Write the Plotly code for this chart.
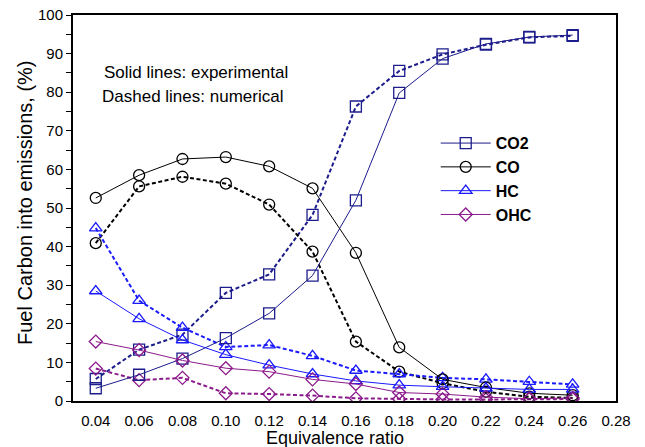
import plotly.graph_objects as go

phi = [0.04, 0.06, 0.08, 0.10, 0.12, 0.14, 0.16, 0.18, 0.20, 0.22, 0.24, 0.26]

co2_exp = [3.3, 6.8, 11.0, 16.3, 22.7, 32.5, 52.0, 79.8, 88.7, 92.5, 94.3, 94.8]
co2_num = [5.7, 13.3, 17.2, 28.0, 32.8, 48.2, 76.3, 85.5, 89.8, 92.3, 94.2, 94.6]
co_exp = [52.6, 58.5, 62.7, 63.2, 60.8, 55.1, 38.4, 13.9, 5.6, 3.5, 2.0, 1.5]
co_num = [40.9, 55.6, 58.1, 56.3, 50.9, 38.7, 15.4, 7.6, 4.6, 2.4, 1.1, 0.8]
hc_exp = [28.5, 21.3, 15.8, 12.0, 9.3, 7.0, 5.2, 4.1, 3.7, 3.3, 3.0, 3.0]
hc_num = [44.8, 26.0, 19.0, 14.0, 14.5, 11.7, 7.9, 7.0, 6.0, 5.6, 5.0, 4.3]
ohc_exp = [15.4, 13.2, 10.5, 8.5, 7.6, 5.6, 4.4, 2.2, 1.8, 1.0, 0.6, 0.8]
ohc_num = [8.4, 5.4, 6.0, 2.0, 1.8, 1.4, 0.7, 0.5, 0.4, 0.4, 0.5, 0.5]

x_ticks = [0.04, 0.06, 0.08, 0.10, 0.12, 0.14, 0.16, 0.18, 0.20, 0.22, 0.24, 0.26, 0.28]

series = [
    ("CO2", co2_exp, co2_num, "#1c1c8c", "square-open", 11),
    ("CO", co_exp, co_num, "#000000", "circle-open", 11),
    ("HC", hc_exp, hc_num, "#1a1aff", "triangle-up-open", 11),
    ("OHC", ohc_exp, ohc_num, "#8b1a8b", "diamond-open", 10),
]

FONT = "Liberation Sans, Arial, sans-serif"

fig = go.Figure()
for name, exp, num, col, sym, sz in series:
    fig.add_trace(go.Scatter(
        x=phi, y=num, mode="lines+markers", name=name + " num", showlegend=False,
        line=dict(color=col, width=2, dash="4px,2.5px"),
        marker=dict(symbol=sym, size=sz, color=col, line=dict(width=1.3, color=col)),
    ))
for name, exp, num, col, sym, sz in series:
    fig.add_trace(go.Scatter(
        x=phi, y=exp, mode="lines+markers", name=name,
        line=dict(color=col, width=1),
        marker=dict(symbol=sym, size=sz, color=col, line=dict(width=1.3, color=col)),
    ))

fig.update_layout(
    width=645, height=447,
    margin=dict(l=73, r=29, t=15, b=46),
    paper_bgcolor="white", plot_bgcolor="white",
    font=dict(family=FONT, size=15, color="black"),
    legend=dict(
        x=0.668, y=0.712, xanchor="left", yanchor="top",
        bgcolor="rgba(0,0,0,0)", font=dict(size=16, family=FONT, weight="bold"),
        tracegroupgap=0, itemwidth=50,
    ),
    annotations=[
        dict(text="Solid lines: experimental", x=0.0534, y=0.850, xref="paper", yref="paper",
             xanchor="left", yanchor="middle", showarrow=False, font=dict(size=17)),
        dict(text="Dashed lines: numerical", x=0.0497, y=0.7876, xref="paper", yref="paper",
             xanchor="left", yanchor="middle", showarrow=False, font=dict(size=17)),
        dict(text="Equivalence ratio", x=0.482, y=-0.097, xref="paper", yref="paper",
             xanchor="center", yanchor="middle", showarrow=False, font=dict(size=18)),
        dict(text="Fuel Carbon into emissions, (%)", x=-0.0884, y=0.5155, xref="paper", yref="paper",
             xanchor="center", yanchor="middle", textangle=-90, showarrow=False, font=dict(size=20)),
    ],
)
fig.update_xaxes(
    range=[0.0295, 0.28], tickvals=x_ticks,
    tickformat=".2f", ticks="outside", ticklen=5, tickcolor="rgba(0,0,0,0)",
    showgrid=False, zeroline=False, automargin=False,
    showline=True, linecolor="black", linewidth=2, mirror=True,
    tickfont=dict(size=15),
)
fig.update_yaxes(
    range=[0, 100], dtick=10, ticks="outside", ticklen=5, tickwidth=1, tickcolor="black",
    minor=dict(dtick=5, ticks="outside", ticklen=5, tickcolor="black", tickwidth=1),
    showgrid=False, zeroline=False, automargin=False,
    showline=True, linecolor="black", linewidth=2, mirror=True,
    tickfont=dict(size=15),
)

fig.write_html("out.html")
